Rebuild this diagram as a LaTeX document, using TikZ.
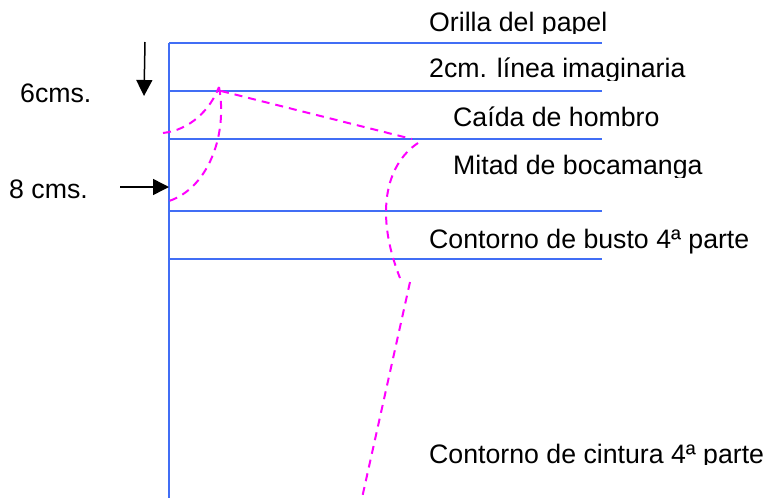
\documentclass[tikz,border=0pt]{standalone}
\usepackage{fontspec}
\setmainfont{Liberation Sans}
\usetikzlibrary{arrows.meta}
\definecolor{lineblue}{RGB}{65,110,245}
\definecolor{patronpink}{RGB}{255,0,255}
\tikzset{
	guide/.style={draw=lineblue, line width=2.1pt},
	patron/.style={draw=patronpink, line width=2pt, dash pattern=on 8pt off 6pt},
	marker/.style={draw=black, line width=1.5pt, -{Triangle[length=16pt,width=16pt]}},
	rotulo/.style={anchor=base west, inner sep=0pt, font=\fontsize{26.7}{30}\selectfont}
}
\begin{document}
\begin{tikzpicture}[x=1pt, y=-1pt]
		\def \xl {169}
		\def \xr {602}
		\useasboundingbox (0,0) rectangle (765,498);

		% guide lines
		\coordinate (top) at (\xl,43);
		\coordinate (bottom) at (\xl,498);
		\draw[guide] (top) -- (bottom);
		\foreach \y/\name in {43/orilla, 91/imaginaria, 139/hombro, 211/bocamanga, 259/busto} {
			\coordinate (\name L) at (\xl,\y);
			\coordinate (\name R) at (\xr,\y);
			\draw[guide] (\name L) -- (\name R);
		}

		% labels, the lower edge of some is cut
		\foreach \x/\y/\cut/\name/\txt in {429/31/33/orilla/{Orilla del papel},
				429/77/80/imaginaria/{2cm. línea imaginaria},
				453/126/138/hombro/{Caída de hombro},
				453/174/177/bocamanga/{Mitad de bocamanga},
				429/248/257/busto/{Contorno de busto 4ª parte},
				429/463/464.5/cintura/{Contorno de cintura 4ª parte}} {
			\begin{scope}
				\clip (400,\y-30) rectangle (765,\cut);
				\node[rotulo] (\name) at (\x,\y) {\txt};
			\end{scope}
		}
		\node[rotulo] (seis) at (20,102) {6cms.};
		\node[rotulo] (ocho) at (9,198) {8 cms.};

		% arrows
		\coordinate (seisA) at (145,42);
		\coordinate (seisB) at (144,96);
		\coordinate (ochoA) at (120,187);
		\coordinate (ochoB) at (169,187);
		\draw[marker] (seisA) -- (seisB);
		\draw[marker] (ochoA) -- (ochoB);

		% pattern
		\coordinate (cuello) at (219,87);
		\coordinate (cuelloI) at (163,133);
		\coordinate (pecho) at (169,201);
		\coordinate (hombroI) at (221,91);
		\coordinate (hombroF) at (412,139);
		\coordinate (sisa) at (418,143);
		\coordinate (sisaB) at (400,278);
		\coordinate (cadera) at (410,282);
		\coordinate (fin) at (362,498);
		\draw[patron] (cuelloI) .. controls (190,130) and (210,110) .. (cuello);
		\draw[patron] (cuello) .. controls (228,135) and (208,188) .. (pecho);
		\draw[patron] (hombroI) -- (hombroF);
		\draw[patron] (sisa) .. controls (385,165) and (375,215) .. (sisaB);
		\draw[patron] (cadera) -- (fin);
	\end{tikzpicture}
\end{document}
